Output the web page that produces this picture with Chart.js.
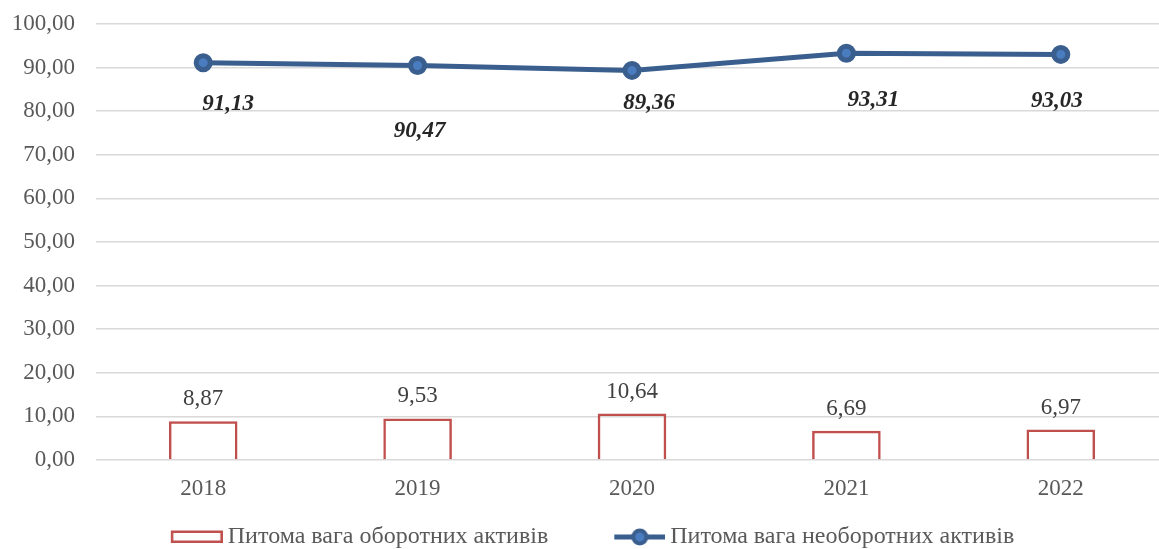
<!DOCTYPE html>
<html><head><meta charset="utf-8">
<script src="https://cdn.jsdelivr.net/npm/chart.js@4.4.1/dist/chart.umd.min.js"></script>
<style>html,body{margin:0;padding:0;background:#fff;overflow:hidden;width:1159px;height:549px}
#wrap{width:1180px;height:549px}</style></head><body>
<div id="wrap"><canvas id="c" width="1180" height="549"></canvas></div>
<script>
const years = ['2018', '2019', '2020', '2021', '2022'];
const currentAssetsShare = [8.87, 9.53, 10.64, 6.69, 6.97];
const nonCurrentAssetsShare = [91.13, 90.47, 89.36, 93.31, 93.03];
const yTickValues = [0, 10, 20, 30, 40, 50, 60, 70, 80, 90, 100];
const seriesNames = ['Питома вага оборотних активів', 'Питома вага необоротних активів'];

const FONT = "'Liberation Serif', 'Times New Roman', serif";
const RED = '#C0504D';
const BLUE = '#3A5F8F';
const BLUE_FILL = '#4A7CC0';
const fmt = v => v.toFixed(2).replace('.', ',');

function barLegendImg() {
  const c = document.createElement('canvas'); c.width = 64; c.height = 20;
  const x = c.getContext('2d');
  x.strokeStyle = RED; x.lineWidth = 2.5;
  x.strokeRect(13.25, 4.75, 49.5, 10);
  return c;
}
function lineLegendImg() {
  const c = document.createElement('canvas'); c.width = 64; c.height = 20;
  const x = c.getContext('2d');
  x.strokeStyle = BLUE; x.lineWidth = 5;
  x.beginPath(); x.moveTo(13, 10); x.lineTo(64, 10); x.stroke();
  x.beginPath(); x.arc(38.5, 10, 6.5, 0, Math.PI * 2);
  x.fillStyle = BLUE_FILL; x.fill(); x.lineWidth = 4; x.stroke();
  return c;
}

const valueLabels = {
  id: 'valueLabels',
  afterLayout(chart) {
    // let the category labels draw below the (compact) x-axis box
    chart.scales.x.bottom = chart.height;
  },
  afterDatasetsDraw(chart, args, opts) {
    const ctx = chart.ctx;
    ctx.save();
    ctx.textAlign = 'center'; ctx.textBaseline = 'middle';
    chart.data.datasets.forEach((ds, di) => {
      const meta = chart.getDatasetMeta(di);
      meta.data.forEach((el, i) => {
        const v = ds.data[i];
        if (ds.type === 'bar') {
          ctx.font = '23px ' + FONT; ctx.fillStyle = '#404040';
          ctx.fillText(fmt(v), el.x, el.y - opts.barGap);
        } else {
          const off = opts.lineOffsets[i];
          ctx.font = 'italic bold 23px ' + FONT; ctx.fillStyle = '#262626';
          ctx.fillText(fmt(v), el.x + off[0], el.y + off[1]);
        }
      });
    });
    ctx.restore();
  }
};

new Chart(document.getElementById('c'), {
  data: {
    labels: years,
    datasets: [
      {
        type: 'bar', label: seriesNames[0], data: currentAssetsShare,
        backgroundColor: 'rgba(255,255,255,0)', borderColor: RED, borderWidth: 2.5,
        borderSkipped: 'start', categoryPercentage: 1, barPercentage: 0.32, order: 2
      },
      {
        type: 'line', label: seriesNames[1], data: nonCurrentAssetsShare,
        borderColor: BLUE, borderWidth: 5, backgroundColor: BLUE_FILL,
        pointRadius: 7, pointBorderWidth: 5, pointBorderColor: BLUE, pointBackgroundColor: BLUE_FILL,
        tension: 0, order: 1
      }
    ]
  },
  options: {
    responsive: false, animation: false, devicePixelRatio: 1,
    layout: { padding: { top: 24, right: 0, bottom: -10, left: 0 } },
    scales: {
      x: {
        offset: true,
        afterFit(scale) { scale.height = 5; scale.paddingLeft = 0; scale.paddingRight = 0; },
        grid: { display: false }, border: { display: false },
        ticks: { font: { family: FONT, size: 23 }, color: '#595959', padding: 7 }
      },
      y: {
        min: 0, max: 100,
        afterBuildTicks(scale) { scale.ticks = yTickValues.map(v => ({ value: v })); },
        afterFit(scale) { scale.width = 96; scale.paddingTop = 0; scale.paddingBottom = 0; },
        grid: { color: '#D9D9D9', lineWidth: 1.5, drawTicks: false },
        border: { display: false },
        ticks: { font: { family: FONT, size: 23 }, color: '#595959', padding: 21, callback: v => fmt(v) }
      }
    },
    plugins: {
      tooltip: { enabled: false },
      legend: {
        position: 'bottom',
        labels: {
          usePointStyle: true, pointStyleWidth: 50, boxHeight: 20,
          font: { family: FONT, size: 24 }, color: '#595959', padding: 60,
          generateLabels(chart) {
            const imgs = [barLegendImg(), lineLegendImg()];
            return chart.data.datasets.map((ds, i) => ({
              text: ds.label, pointStyle: imgs[i], datasetIndex: i,
              fillStyle: 'transparent', strokeStyle: 'transparent', lineWidth: 0, fontColor: '#595959'
            }));
          }
        }
      },
      valueLabels: { barGap: 22, lineOffsets: [[25, 41], [2, 66], [17, 33], [27, 47], [-4, 47]] }
    }
  },
  plugins: [valueLabels]
});
</script></body></html>
